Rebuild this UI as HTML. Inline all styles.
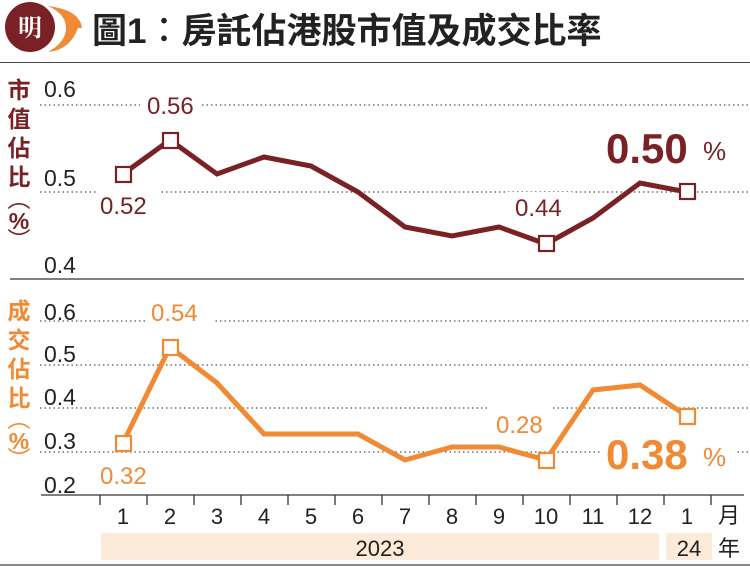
<!DOCTYPE html>
<html><head><meta charset="utf-8"><style>
html,body{margin:0;padding:0;background:#fff;}
svg{display:block;font-family:"Liberation Sans","Noto Sans CJK TC",sans-serif;}
</style></head><body>
<svg width="750" height="567" viewBox="0 0 750 567" xmlns="http://www.w3.org/2000/svg">
<path d="M48 6 Q80 10 82 28 L78 28 Q70 50 48 52 Q66 42 66 28 Q66 14 48 6Z" fill="#f08a35"/>
<circle cx="30" cy="27" r="25" fill="#7a2125"/>
<text x="30" y="36" font-size="24" font-weight="bold" fill="#fff" text-anchor="middle" font-family="'Noto Serif CJK SC',serif">明</text>
<text x="92" y="43" font-size="35" font-weight="bold" fill="#222">圖1︰房託佔港股市值及成交比率</text>
<line x1="0" y1="62.5" x2="750" y2="62.5" stroke="#444" stroke-width="1"/>

<g stroke="#555" stroke-width="1.2" stroke-dasharray="1.5 3">
<line x1="40" y1="105" x2="750" y2="105"/>
<line x1="40" y1="192" x2="750" y2="192"/>
<line x1="40" y1="321" x2="750" y2="321"/>
<line x1="40" y1="365" x2="750" y2="365"/>
<line x1="40" y1="408" x2="750" y2="408"/>
<line x1="40" y1="452" x2="750" y2="452"/>
</g>
<line x1="10" y1="279" x2="744" y2="279" stroke="#333" stroke-width="1.2"/>
<g font-size="23" fill="#222">
<text x="44" y="97">0.6</text><text x="44" y="186">0.5</text><text x="44" y="273">0.4</text>
<text x="44" y="320">0.6</text><text x="44" y="362">0.5</text><text x="44" y="405">0.4</text><text x="44" y="449">0.3</text><text x="44" y="493">0.2</text>
</g>
<g font-size="23" font-weight="bold" fill="#7a2125" text-anchor="middle">
<text x="19" y="98">市</text><text x="19" y="127">值</text><text x="19" y="156">佔</text><text x="19" y="185">比</text>
<text x="19" y="207" font-weight="normal">︵</text><text x="19" y="229">%</text><text x="19" y="248" font-weight="normal">︶</text>
</g>
<g font-size="23" font-weight="bold" fill="#f08a35" text-anchor="middle">
<text x="19" y="319">成</text><text x="19" y="348">交</text><text x="19" y="377">佔</text><text x="19" y="406">比</text>
<text x="19" y="427" font-weight="normal">︵</text><text x="19" y="449">%</text><text x="19" y="467" font-weight="normal">︶</text>
</g>
<g fill="#fff">
<rect x="140" y="95" width="62" height="24"/><rect x="96" y="186" width="64" height="26"/>
<rect x="508" y="192" width="64" height="24"/><rect x="600" y="125" width="135" height="45"/>
<rect x="145" y="300" width="68" height="26"/><rect x="96" y="460" width="64" height="28"/>
<rect x="490" y="406" width="62" height="30"/><rect x="600" y="430" width="135" height="45"/>
</g>
<polyline fill="none" stroke="#7a2125" stroke-width="5" points="123,174 170,140 217,174 264,157 311,166 358,192 405,227 452,236 499,227 546,244 593,218 640,183 687,192"/>
<g fill="#fff" stroke="#7a2125" stroke-width="2.2">
<rect x="116" y="167" width="15" height="15"/><rect x="163" y="133" width="15" height="15"/>
<rect x="539" y="236" width="15" height="15"/><rect x="680" y="184" width="15" height="15"/>
</g>
<g font-size="24" fill="#7a2125">
<text x="147" y="114">0.56</text><text x="100" y="214">0.52</text><text x="515" y="216">0.44</text>
<text x="606" y="163" font-size="42" font-weight="bold" letter-spacing="0">0.50</text><text x="703" y="160" font-size="26">%</text>
</g>
<polyline fill="none" stroke="#f08a35" stroke-width="5" points="123,443 170,347 217,383 264,434 311,434 358,434 405,460 452,447 499,447 546,460 593,390 640,385 687,416"/>
<g fill="#fff" stroke="#f08a35" stroke-width="2.2">
<rect x="116" y="436" width="15" height="15"/><rect x="163" y="340" width="15" height="15"/>
<rect x="539" y="453" width="15" height="15"/><rect x="680" y="409" width="15" height="15"/>
</g>
<g font-size="24" fill="#f08a35">
<text x="151" y="321">0.54</text><text x="100" y="484">0.32</text><text x="496" y="433">0.28</text>
<text x="606" y="469" font-size="42" font-weight="bold" letter-spacing="0">0.38</text><text x="703" y="466" font-size="26">%</text>
</g>
<line x1="41" y1="495" x2="744" y2="495" stroke="#333" stroke-width="1.2"/>
<g stroke="#333" stroke-width="1.3">
<line x1="100" y1="495" x2="100" y2="505"/><line x1="147" y1="495" x2="147" y2="505"/><line x1="194" y1="495" x2="194" y2="505"/><line x1="241" y1="495" x2="241" y2="505"/><line x1="288" y1="495" x2="288" y2="505"/><line x1="335" y1="495" x2="335" y2="505"/><line x1="382" y1="495" x2="382" y2="505"/><line x1="429" y1="495" x2="429" y2="505"/><line x1="476" y1="495" x2="476" y2="505"/><line x1="523" y1="495" x2="523" y2="505"/><line x1="570" y1="495" x2="570" y2="505"/><line x1="617" y1="495" x2="617" y2="505"/><line x1="664" y1="495" x2="664" y2="505"/><line x1="711" y1="495" x2="711" y2="505"/>
</g>
<g font-size="22" fill="#222" text-anchor="middle">
<text x="123" y="524">1</text><text x="170" y="524">2</text><text x="217" y="524">3</text><text x="264" y="524">4</text><text x="311" y="524">5</text><text x="358" y="524">6</text><text x="405" y="524">7</text><text x="452" y="524">8</text><text x="499" y="524">9</text><text x="546" y="524">10</text><text x="593" y="524">11</text><text x="640" y="524">12</text><text x="687" y="524">1</text><text x="729" y="523">月</text>
</g>
<rect x="101" y="533" width="558" height="27" fill="#fcebd9"/>
<rect x="666" y="533" width="46" height="27" fill="#fcebd9"/>
<g font-size="22" fill="#222" text-anchor="middle">
<text x="380" y="556">2023</text><text x="689" y="556">24</text><text x="729" y="556">年</text>
</g>
<line x1="0" y1="565" x2="750" y2="565" stroke="#444" stroke-width="1.2"/>
</svg>
</body></html>
